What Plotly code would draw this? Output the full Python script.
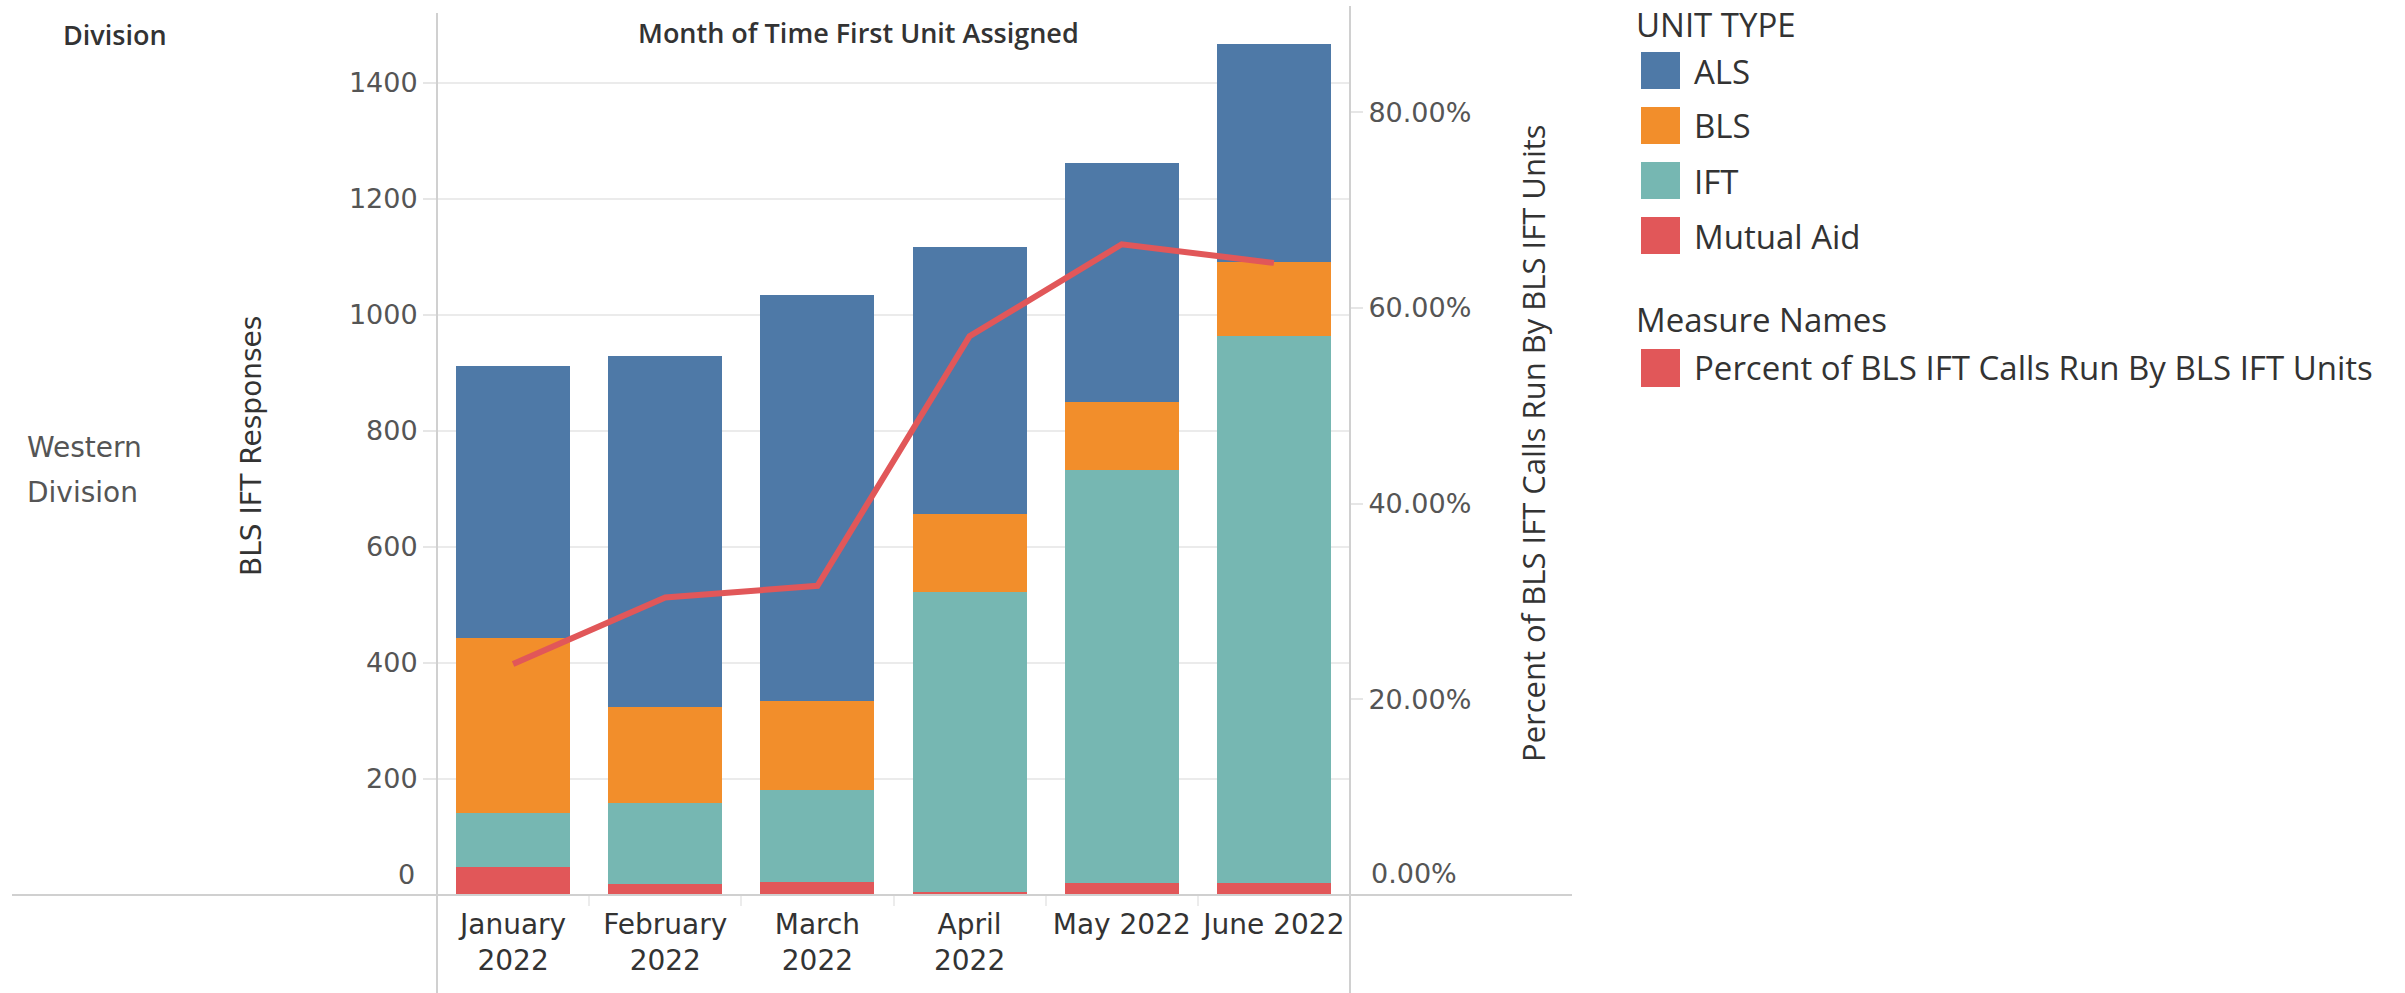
import plotly.graph_objects as go

# ---------------- data ----------------
months = ["January 2022", "February 2022", "March 2022", "April 2022", "May 2022", "June 2022"]
month_ticktext = ["January<br>2022", "February<br>2022", "March<br>2022", "April<br>2022", "May 2022", "June 2022"]
unit_types = ["ALS", "BLS", "IFT", "Mutual Aid"]
als = [469, 604, 700, 460, 412, 377]
bls = [302, 166, 153, 134, 118, 127]
ift = [92, 140, 158, 517, 712, 944]
mutual_aid = [49, 19, 23, 6, 20, 20]
pct_bls_ift = [23.6, 30.4, 31.6, 57.1, 66.5, 64.6]
left_ticks = [0, 200, 400, 600, 800, 1000, 1200, 1400]
right_ticks = [0, 20, 40, 60, 80]
line_name = "Percent of BLS IFT Calls Run By BLS IFT Units"

# ---------------- styling ----------------
W, H = 2405, 993
PL, PR, PT, PB = 437, 1350, 13, 895  # plot area in pixels
colors = {"ALS": "#4e79a7", "BLS": "#f28e2b", "IFT": "#76b7b2", "Mutual Aid": "#e15759"}
line_color = "#e15759"
axis_line = "#d0d0d0"
grid = "#ebebeb"
TICK_FONT = "DejaVu Sans"
TXT_FONT = "Open Sans"


def px_x(px):
    return (px - PL) / (PR - PL)


def px_y(py):
    return (PB - py) / (PB - PT)


fig = go.Figure()
series = {"Mutual Aid": mutual_aid, "IFT": ift, "BLS": bls, "ALS": als}
for name in ["Mutual Aid", "IFT", "BLS", "ALS"]:
    fig.add_trace(go.Bar(
        x=months, y=series[name], name=name,
        marker=dict(color=colors[name], line=dict(width=0)),
        showlegend=False,
    ))

fig.add_trace(go.Scatter(
    x=months, y=pct_bls_ift, name=line_name, yaxis="y2",
    mode="lines", line=dict(color=line_color, width=6),
    showlegend=False,
))

left_range_top = (PB - PT) / 0.58
right_range_top = (PB - PT) / 9.785

fig.update_layout(
    width=W, height=H,
    margin=dict(l=PL, r=W - PR, t=PT, b=H - PB, pad=0, autoexpand=False),
    paper_bgcolor="white", plot_bgcolor="white",
    barmode="stack", bargap=0.25,
    showlegend=False,
    font=dict(family=TXT_FONT, color="#333"),
    xaxis=dict(
        type="category", range=[-0.5, 5.5], automargin=False, tickangle=0,
        tickvals=months, ticktext=month_ticktext,
        tickfont=dict(family=TICK_FONT, size=28, color="#333"),
        ticklabelstandoff=10,
        showgrid=False, zeroline=False, showline=False,
        ticks="outside", tickson="boundaries", ticklen=10, tickcolor="#ececec", tickwidth=2,
    ),
    yaxis=dict(
        range=[0, left_range_top], automargin=False,
        tickvals=left_ticks,
        ticktext=["" if v == 0 else str(v) for v in left_ticks],
        tickfont=dict(family=TICK_FONT, size=27, color="#555"),
        showgrid=True, gridcolor=grid, gridwidth=2,
        zeroline=False, showline=False,
        ticks="outside", ticklen=13, tickcolor="#e6e6e6", tickwidth=2,
    ),
    yaxis2=dict(
        overlaying="y", side="right", automargin=False,
        range=[0, right_range_top],
        tickvals=right_ticks,
        ticktext=["" if v == 0 else f"{v:.2f}%" for v in right_ticks],
        tickfont=dict(family=TICK_FONT, size=27, color="#555"),
        showgrid=False, zeroline=False, showline=False,
        ticks="outside", ticklen=12, tickcolor="#e6e6e6", tickwidth=2,
    ),
)

shapes = []
# axis/pane border lines
shapes.append(dict(type="line", xref="paper", yref="paper", x0=0, x1=0,
                   y0=px_y(13), y1=px_y(H), line=dict(color=axis_line, width=2)))
shapes.append(dict(type="line", xref="paper", yref="paper", x0=1, x1=1,
                   y0=px_y(6), y1=px_y(H), line=dict(color=axis_line, width=2)))
shapes.append(dict(type="line", xref="paper", yref="paper", x0=px_x(12), x1=px_x(1572),
                   y0=0, y1=0, line=dict(color=axis_line, width=2)))

annotations = []
# zero labels (raised, as in Tableau)
annotations.append(dict(text="0", xref="paper", yref="y", x=0, y=0, xanchor="right", yanchor="middle",
                        xshift=-20, yshift=21, showarrow=False,
                        font=dict(family=TICK_FONT, size=27, color="#555")))
annotations.append(dict(text="0.00%", xref="paper", yref="y2", x=1, y=0, xanchor="left", yanchor="middle",
                        xshift=19, yshift=22, showarrow=False,
                        font=dict(family=TICK_FONT, size=27, color="#555")))
# headers
annotations.append(dict(text="Division", xref="paper", yref="paper", x=px_x(61), y=px_y(35),
                        xanchor="left", yanchor="middle", showarrow=False,
                        font=dict(family=TXT_FONT, size=27, color="#333", weight=600)))
annotations.append(dict(text="Month of Time First Unit Assigned", xref="paper", yref="paper",
                        x=px_x(858), y=px_y(33), xanchor="center", yanchor="middle", showarrow=False,
                        font=dict(family=TXT_FONT, size=27, color="#333", weight=600)))
annotations.append(dict(text="Western", xref="paper", yref="paper", x=px_x(25), y=px_y(447),
                        xanchor="left", yanchor="middle", showarrow=False,
                        font=dict(family=TICK_FONT, size=28, color="#555")))
annotations.append(dict(text="Division", xref="paper", yref="paper", x=px_x(25), y=px_y(492),
                        xanchor="left", yanchor="middle", showarrow=False,
                        font=dict(family=TICK_FONT, size=28, color="#555")))
# axis titles
annotations.append(dict(text="BLS IFT Responses", xref="paper", yref="paper", x=px_x(252), y=px_y(446),
                        xanchor="center", yanchor="middle", textangle=-90, showarrow=False,
                        font=dict(family=TICK_FONT, size=28, color="#333")))
annotations.append(dict(text=line_name, xref="paper", yref="paper", x=px_x(1533), y=px_y(443),
                        xanchor="center", yanchor="middle", textangle=-90, showarrow=False,
                        font=dict(family=TXT_FONT, size=31, color="#333")))

# legend (Tableau style)
LEG_FONT = dict(family=TXT_FONT, size=33, color="#333")
annotations.append(dict(text="UNIT TYPE", xref="paper", yref="paper", x=px_x(1634), y=px_y(24),
                        xanchor="left", yanchor="middle", showarrow=False, font=LEG_FONT))
for i, name in enumerate(unit_types):
    top = 52 + 55 * i
    shapes.append(dict(type="rect", xref="paper", yref="paper",
                       x0=px_x(1641), x1=px_x(1680), y0=px_y(top), y1=px_y(top + 37),
                       fillcolor=colors[name], line=dict(width=0)))
    annotations.append(dict(text=name, xref="paper", yref="paper", x=px_x(1692), y=px_y(top + 19),
                            xanchor="left", yanchor="middle", showarrow=False, font=LEG_FONT))
annotations.append(dict(text="Measure Names", xref="paper", yref="paper", x=px_x(1634), y=px_y(319),
                        xanchor="left", yanchor="middle", showarrow=False, font=LEG_FONT))
shapes.append(dict(type="rect", xref="paper", yref="paper",
                   x0=px_x(1641), x1=px_x(1680), y0=px_y(349), y1=px_y(387),
                   fillcolor=line_color, line=dict(width=0)))
annotations.append(dict(text=line_name, xref="paper", yref="paper", x=px_x(1692), y=px_y(368),
                        xanchor="left", yanchor="middle", showarrow=False, font=LEG_FONT))

fig.update_layout(shapes=shapes, annotations=annotations)

fig.write_html("out.html", config={"displayModeBar": False},
               post_script="document.body.style.margin='0';")
